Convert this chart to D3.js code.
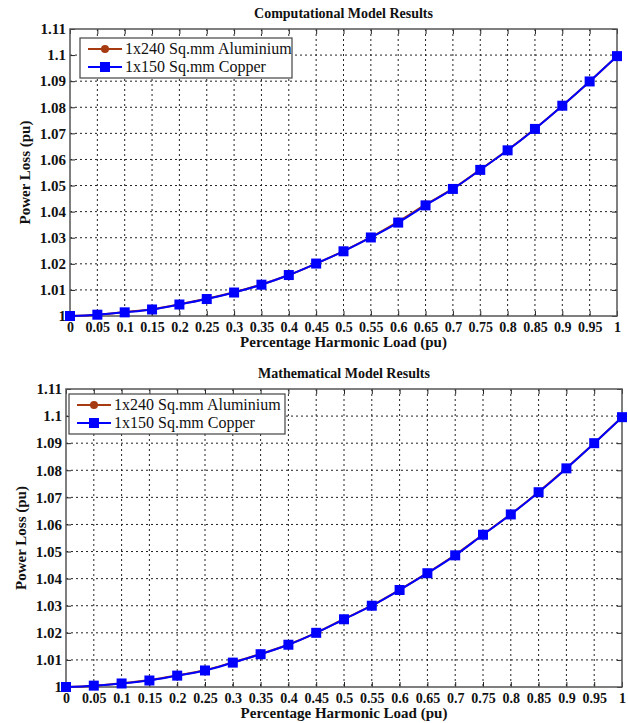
<!DOCTYPE html>
<html lang="en">
<head>
    <meta charset="UTF-8">
    <title>Power Loss</title>
    <script src="https://d3js.org/d3.v7.min.js"></script>
    <style>
        body { margin: 0; background: white; }
    </style>
</head>
<body>
    <script>
        var harmonicLoad = [0, 0.05, 0.1, 0.15, 0.2, 0.25, 0.3, 0.35, 0.4, 0.45, 0.5, 0.55, 0.6, 0.65, 0.7, 0.75, 0.8, 0.85, 0.9, 0.95, 1];
        var xTickLabels = ["0", "0.05", "0.1", "0.15", "0.2", "0.25", "0.3", "0.35", "0.4", "0.45", "0.5", "0.55", "0.6", "0.65", "0.7", "0.75", "0.8", "0.85", "0.9", "0.95", "1"];
        var yTicks = [1, 1.01, 1.02, 1.03, 1.04, 1.05, 1.06, 1.07, 1.08, 1.09, 1.1, 1.11];
        var yTickLabels = ["1", "1.01", "1.02", "1.03", "1.04", "1.05", "1.06", "1.07", "1.08", "1.09", "1.1", "1.11"];

        var compAluminium = [1, 1.0005, 1.0015, 1.0026, 1.0045, 1.0066, 1.0091, 1.0121, 1.0157, 1.0201, 1.0249, 1.0302, 1.0362, 1.0427, 1.0488, 1.0561, 1.0636, 1.0718, 1.0806, 1.0899, 1.0996];
        var compCopper = [1, 1.0005, 1.0014, 1.0025, 1.0044, 1.0065, 1.009, 1.012, 1.0157, 1.0201, 1.0248, 1.0301, 1.0358, 1.0424, 1.0487, 1.056, 1.0635, 1.0717, 1.0806, 1.0899, 1.0996];
        var mathAluminium = [1, 1.0005, 1.0014, 1.0026, 1.0043, 1.0062, 1.0091, 1.0122, 1.0157, 1.02, 1.0251, 1.0301, 1.0359, 1.0421, 1.0488, 1.0563, 1.0638, 1.072, 1.0808, 1.09, 1.0996];
        var mathCopper = [1, 1.0005, 1.0013, 1.0024, 1.0042, 1.0061, 1.009, 1.0121, 1.0156, 1.02, 1.025, 1.03, 1.0358, 1.042, 1.0486, 1.0562, 1.0637, 1.0719, 1.0807, 1.09, 1.0996];

        var seriesNames = ["1x240 Sq.mm Aluminium", "1x150 Sq.mm Copper"];
        var seriesColors = ["#a63a10", "#0000ff"];
        var serif = "'Liberation Serif', 'Times New Roman', serif";

        var svg = d3.select("body").append("svg")
            .attr("width", 628)
            .attr("height", 723);

        function drawChart(box, title, alu, cu) {
            var x = d3.scaleLinear().domain([0, 1]).range([box.left, box.right]);
            var y = d3.scaleLinear().domain([1, 1.11]).range([box.bottom, box.top]);
            var g = svg.append("g");

            // grid
            g.selectAll(".vgrid").data(harmonicLoad.slice(1, -1)).enter().append("line")
                .attr("x1", d => x(d)).attr("x2", d => x(d))
                .attr("y1", box.top).attr("y2", box.bottom)
                .attr("stroke", "#222").attr("stroke-width", 1).attr("stroke-dasharray", "2,3");
            g.selectAll(".hgrid").data(yTicks.slice(1, -1)).enter().append("line")
                .attr("x1", box.left).attr("x2", box.right)
                .attr("y1", d => y(d)).attr("y2", d => y(d))
                .attr("stroke", "#222").attr("stroke-width", 1).attr("stroke-dasharray", "2,3");

            // axes with inward ticks on all sides
            g.append("g").attr("transform", "translate(0," + box.bottom + ")")
                .call(d3.axisBottom(x).tickValues(harmonicLoad).tickSize(-5).tickPadding(6).tickFormat((d, i) => xTickLabels[i]))
                .call(a => a.selectAll("text").attr("font-size", 14).attr("font-family", serif).attr("font-weight", "bold").attr("fill", "#111"));
            g.append("g").attr("transform", "translate(0," + box.top + ")")
                .call(d3.axisTop(x).tickValues(harmonicLoad).tickSize(-5).tickFormat(""));
            g.append("g").attr("transform", "translate(" + box.left + ",0)")
                .call(d3.axisLeft(y).tickValues(yTicks).tickSize(-5).tickPadding(4).tickFormat((d, i) => yTickLabels[i]))
                .call(a => a.selectAll("text").attr("font-size", 15).attr("font-family", serif).attr("font-weight", "bold").attr("fill", "#111"));
            g.append("g").attr("transform", "translate(" + box.right + ",0)")
                .call(d3.axisRight(y).tickValues(yTicks).tickSize(-5).tickFormat(""));
            g.selectAll(".domain").remove();
            g.selectAll(".tick line").attr("stroke", "#222");

            g.append("rect")
                .attr("x", box.left).attr("y", box.top)
                .attr("width", box.right - box.left).attr("height", box.bottom - box.top)
                .attr("fill", "none").attr("stroke", "#555").attr("stroke-width", 1.5);

            var line = d3.line().x((d, i) => x(harmonicLoad[i])).y(d => y(d)).curve(d3.curveMonotoneX);

            // aluminium
            g.append("path").datum(alu).attr("d", line)
                .attr("fill", "none").attr("stroke", seriesColors[0]).attr("stroke-width", 2);
            g.selectAll(".alu").data(alu).enter().append("circle")
                .attr("cx", (d, i) => x(harmonicLoad[i])).attr("cy", d => y(d))
                .attr("r", 4).attr("fill", seriesColors[0]);

            // copper
            g.append("path").datum(cu).attr("d", line)
                .attr("fill", "none").attr("stroke", seriesColors[1]).attr("stroke-width", 2);
            g.selectAll(".cu").data(cu).enter().append("rect")
                .attr("x", (d, i) => x(harmonicLoad[i]) - 5).attr("y", d => y(d) - 5)
                .attr("width", 10).attr("height", 10).attr("fill", seriesColors[1]);

            // titles
            g.append("text").attr("x", (box.left + box.right) / 2).attr("y", box.top - 11)
                .attr("text-anchor", "middle").attr("font-size", 14).attr("font-family", serif).attr("font-weight", "bold")
                .attr("fill", "#111").text(title);
            g.append("text").attr("x", (box.left + box.right) / 2).attr("y", box.bottom + 31)
                .attr("text-anchor", "middle").attr("font-size", 15).attr("font-family", serif).attr("font-weight", "bold")
                .attr("fill", "#111").text("Percentage Harmonic Load (pu)");
            g.append("text")
                .attr("transform", "translate(" + (box.left - 40) + "," + ((box.top + box.bottom) / 2) + ") rotate(-90)")
                .attr("text-anchor", "middle").attr("font-size", 15).attr("font-family", serif).attr("font-weight", "bold")
                .attr("fill", "#111").text("Power Loss (pu)");

            // legend
            var lg = g.append("g").attr("transform", "translate(" + box.legX + "," + box.legY + ")");
            lg.append("rect").attr("width", box.legW).attr("height", 40)
                .attr("fill", "white").attr("stroke", "#444").attr("stroke-width", 1.2);
            seriesNames.forEach(function (name, i) {
                var cy = 11 + i * 18;
                lg.append("line").attr("x1", 8).attr("x2", 42).attr("y1", cy).attr("y2", cy)
                    .attr("stroke", seriesColors[i]).attr("stroke-width", 2);
                if (i === 0) {
                    lg.append("circle").attr("cx", 25).attr("cy", cy).attr("r", 4).attr("fill", seriesColors[i]);
                } else {
                    lg.append("rect").attr("x", 20).attr("y", cy - 5).attr("width", 10).attr("height", 10).attr("fill", seriesColors[i]);
                }
                lg.append("text").attr("x", 45).attr("y", cy + 5).attr("font-size", 16).attr("font-family", serif)
                    .attr("fill", "#111").text(name);
            });
        }

        drawChart({left: 70, right: 617, top: 29, bottom: 316, legX: 80, legY: 38, legW: 212},
            "Computational Model Results", compAluminium, compCopper);
        drawChart({left: 66, right: 622, top: 389, bottom: 687, legX: 69, legY: 394, legW: 216},
            "Mathematical Model Results", mathAluminium, mathCopper);
    </script>
</body>
</html>
